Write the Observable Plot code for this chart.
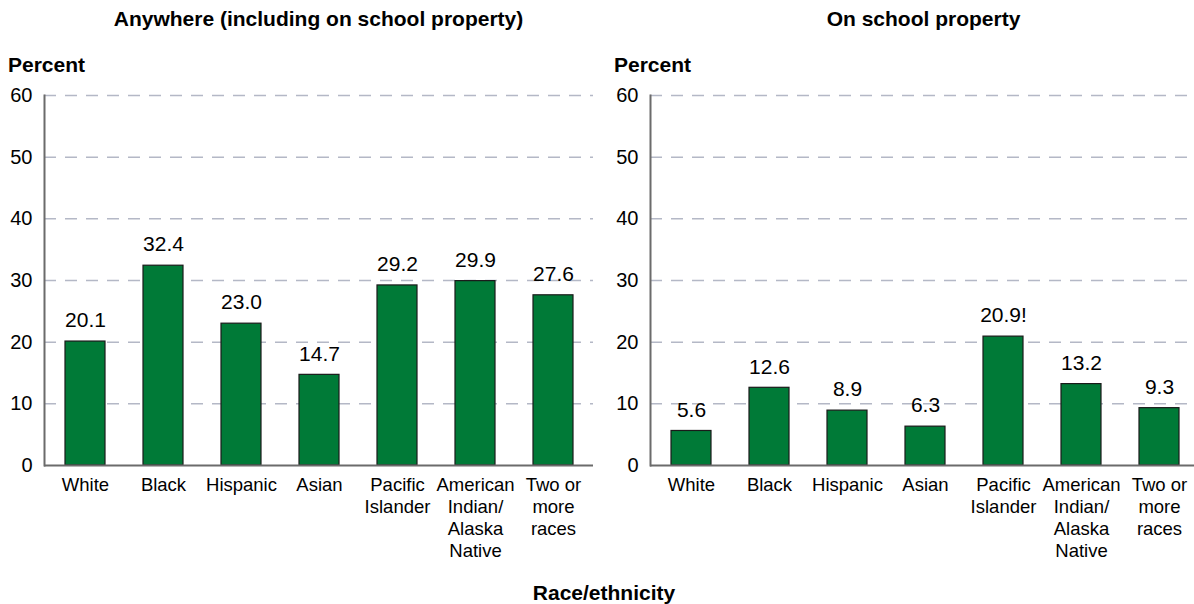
<!DOCTYPE html>
<html>
<head>
<meta charset="utf-8">
<script src="https://cdn.jsdelivr.net/npm/d3@7"></script>
<script src="https://cdn.jsdelivr.net/npm/@observablehq/plot@0.6"></script>
<style>
  html, body { margin: 0; padding: 0; background: #fff; overflow: hidden; }
  body { width: 1194px; height: 604px; position: relative; font-family: "Liberation Sans", Arial, sans-serif; color: #000; }
  .t { position: absolute; font-weight: bold; white-space: nowrap; line-height: 1; z-index: 2; }
  .panel { position: absolute; top: 0; width: 600px; height: 604px; z-index: 1; }
  .panel svg { max-width: none !important; display: block; }
</style>
</head>
<body>
<div id="left" class="panel" style="left:0;"></div>
<div id="right" class="panel" style="left:600px;"></div>
<div class="t" style="left:0;width:637px;text-align:center;top:8px;font-size:21px;">Anywhere (including on school property)</div>
<div class="t" style="left:650px;width:547px;text-align:center;top:8px;font-size:21px;">On school property</div>
<div class="t" style="left:8px;top:54px;font-size:21px;">Percent</div>
<div class="t" style="left:614px;top:54px;font-size:21px;">Percent</div>
<div class="t" style="left:14px;width:1180px;text-align:center;top:582px;font-size:21px;">Race/ethnicity</div>
<script>
const categories = ["White", "Black", "Hispanic", "Asian", "Pacific Islander", "American Indian/Alaska Native", "Two or more races"];
const tickLabels = ["White", "Black", "Hispanic", "Asian", "Pacific\nIslander", "American\nIndian/\nAlaska\nNative", "Two or\nmore\nraces"];
const anywhereValues = [20.1, 32.4, 23.0, 14.7, 29.2, 29.9, 27.6];
const anywhereLabels = ["20.1", "32.4", "23.0", "14.7", "29.2", "29.9", "27.6"];
const schoolValues = [5.6, 12.6, 8.9, 6.3, 20.9, 13.2, 9.3];
const schoolLabels = ["5.6", "12.6", "8.9", "6.3", "20.9!", "13.2", "9.3"];
const yTicks = [0, 10, 20, 30, 40, 50, 60];

function panel(values, labels, marginLeft, marginRight) {
  const data = categories.map((c, i) => ({cat: c, value: values[i], label: labels[i]}));
  const tickMap = new Map(categories.map((c, i) => [c, tickLabels[i]]));
  return Plot.plot({
    width: 600,
    height: 604,
    marginLeft,
    marginRight,
    marginTop: 95,
    marginBottom: 139,
    style: {fontFamily: "'Liberation Sans', Arial, sans-serif", color: "#000", background: "transparent", overflow: "visible"},
    x: {domain: categories, paddingInner: 0.49, paddingOuter: 0.245},
    y: {domain: [0, 60]},
    marks: [
      Plot.ruleY(yTicks.filter(d => d > 0), {stroke: "#b4b8c6", strokeWidth: 1.5, strokeDasharray: "12,9"}),
      Plot.barY(data, {x: "cat", y: "value", fill: "#007a37", stroke: "#1a1a1a", strokeWidth: 1.2}),
      Plot.text(data, {x: "cat", y: "value", text: "label", dy: -21, fontSize: 21, fill: "#000"}),
      Plot.ruleY([0], {stroke: "#6b6b6b", strokeWidth: 2}),
      Plot.frame({anchor: "left", stroke: "#6b6b6b", strokeWidth: 2}),
      Plot.axisY({ticks: yTicks, tickSize: 0, tickPadding: 12, fontSize: 20, label: null, fill: "#000"}),
      Plot.axisX({tickSize: 0, tickPadding: 10, fontSize: 18.5, label: null, lineHeight: 1.19, tickFormat: d => tickMap.get(d), fill: "#000"})
    ]
  });
}

document.getElementById("left").append(panel(anywhereValues, anywhereLabels, 44, 7));
document.getElementById("right").append(panel(schoolValues, schoolLabels, 50, 1));
</script>
</body>
</html>
